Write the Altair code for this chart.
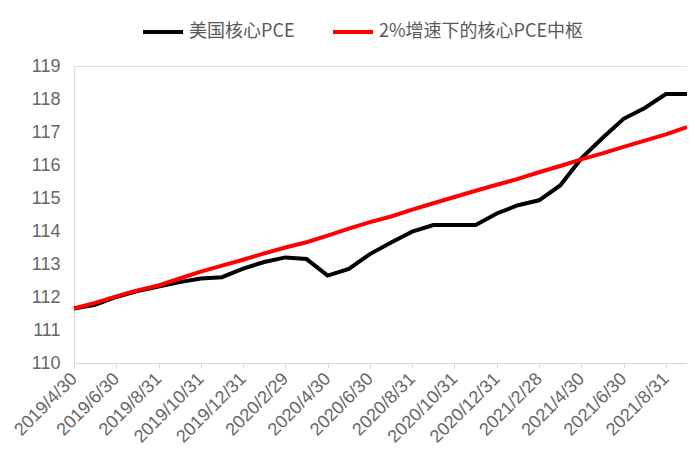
import altair as alt
import pandas as pd

dates = ["2019/4/30", "2019/5/31", "2019/6/30", "2019/7/31", "2019/8/31", "2019/9/30",
         "2019/10/31", "2019/11/30", "2019/12/31", "2020/1/31", "2020/2/29", "2020/3/31",
         "2020/4/30", "2020/5/31", "2020/6/30", "2020/7/31", "2020/8/31", "2020/9/30",
         "2020/10/31", "2020/11/30", "2020/12/31", "2021/1/31", "2021/2/28", "2021/3/31",
         "2021/4/30", "2021/5/31", "2021/6/30", "2021/7/31", "2021/8/31", "2021/9/30"]

core_pce = [111.65, 111.76, 112.00, 112.18, 112.32, 112.45, 112.56, 112.60, 112.86, 113.06,
            113.20, 113.15, 112.65, 112.85, 113.30, 113.65, 113.98, 114.18, 114.18, 114.18,
            114.53, 114.78, 114.93, 115.38, 116.20, 116.82, 117.40, 117.73, 118.15, 118.15]

trend_2pct = [111.65, 111.82, 112.02, 112.20, 112.35, 112.56, 112.77, 112.95, 113.13, 113.32,
              113.50, 113.66, 113.86, 114.07, 114.27, 114.44, 114.65, 114.84, 115.03, 115.22,
              115.40, 115.58, 115.78, 115.97, 116.17, 116.35, 116.55, 116.74, 116.93, 117.15]

label_dates = dates[::2]
y_ticks = list(range(110, 120))

s1 = "美国核心PCE"
s2 = "2%增速下的核心PCE中枢"

df = pd.concat([
    pd.DataFrame({"date": dates, "value": core_pce, "series": s1}),
    pd.DataFrame({"date": dates, "value": trend_2pct, "series": s2}),
], ignore_index=True)

x_enc = alt.X("date:O", sort=dates,
              scale=alt.Scale(type="point", padding=0),
              axis=alt.Axis(values=label_dates, title=None, labelAngle=-45,
                            labelAlign="right", labelBaseline="middle",
                            labelFont="Liberation Sans", labelFontSize=18,
                            labelColor="#666666", labelPadding=8,
                            domainColor="#d9d9d9", tickColor="#d9d9d9", tickSize=5,
                            grid=False, labelOverlap=False))
y_enc = alt.Y("value:Q", scale=alt.Scale(domain=[110, 119], nice=False, zero=False),
              axis=alt.Axis(values=y_ticks, title=None, grid=False, domain=False,
                            ticks=False, labelPadding=14,
                            labelFont="Liberation Sans", labelFontSize=18,
                            labelColor="#666666"))

legend = alt.Legend(title=None, orient="none", legendX=67, legendY=-56,
                    direction="horizontal", symbolType="stroke", symbolSize=1600,
                    symbolStrokeWidth=4, labelFont="Noto Sans CJK SC", labelFontSize=18,
                    labelColor="#595959", columnPadding=30, labelOffset=4,
                    labelLimit=400)

chart = alt.Chart(df).mark_line(strokeWidth=4).encode(
    x=x_enc, y=y_enc,
    color=alt.Color("series:N", sort=[s1, s2],
                    scale=alt.Scale(domain=[s1, s2], range=["#000000", "#ff0000"]),
                    legend=legend),
).properties(
    width=613, height=297,
    autosize=alt.AutoSizeParams(type="none"),
    padding={"left": 66, "top": 58, "right": 0, "bottom": 90},
).configure_view(stroke=None).configure(background="white")

chart.save("out.html", embed_options={"renderer": "svg", "actions": False})
